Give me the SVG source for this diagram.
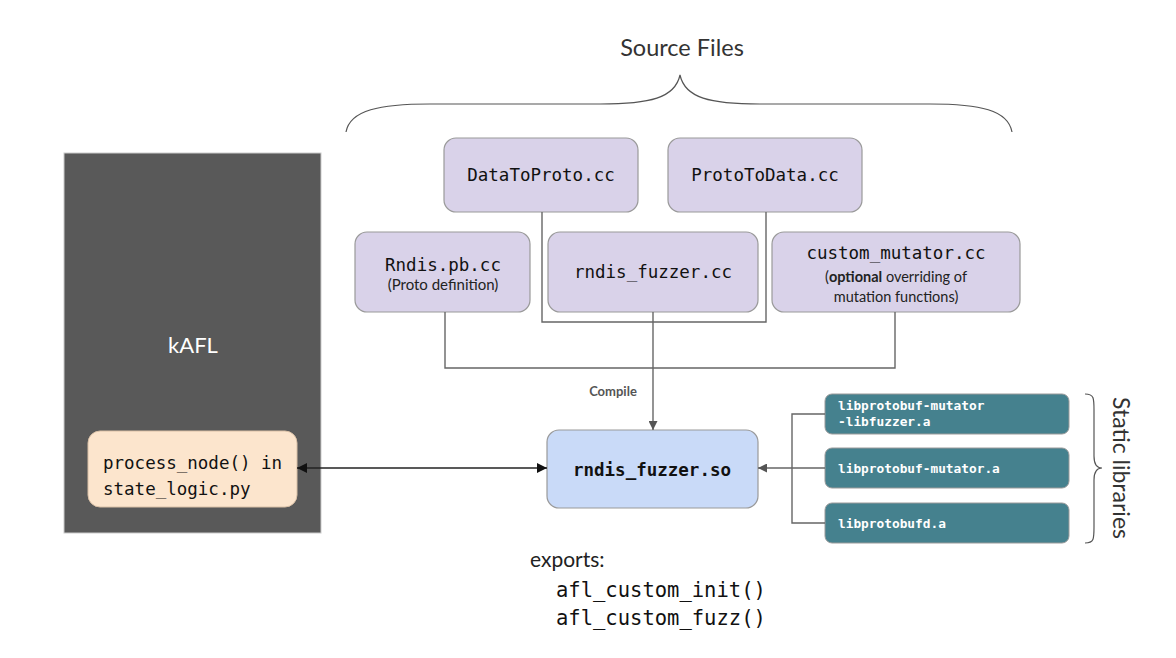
<svg xmlns="http://www.w3.org/2000/svg" width="1176" height="658" viewBox="0 0 1176 658">
<defs>
<style>
.src{fill:#d9d2e9;stroke:#9a9a9a;stroke-width:1.2}
.lib{fill:#45818e;stroke:#9a9a9a;stroke-width:1}
.mono{font-family:"DejaVu Sans Mono","Liberation Mono",monospace;font-size:17.5px;fill:#111}
.lato{font-family:Lato,"Open Sans",sans-serif;fill:#222}
.libt{font-family:"DejaVu Sans Mono","Liberation Mono",monospace;font-size:12.8px;font-weight:bold;fill:#fff}
.con{fill:none;stroke:#666;stroke-width:1.4}
.brace{fill:none;stroke:#555;stroke-width:1.2}
</style>
<marker id="ah" viewBox="0 0 10 10" refX="10" refY="5" markerWidth="9" markerHeight="9" markerUnits="userSpaceOnUse" orient="auto-start-reverse">
<path d="M0,0 L10,5 L0,10 z" fill="#555"/>
</marker>
<marker id="ahb" viewBox="0 0 10 10" refX="10" refY="5" markerWidth="10" markerHeight="10" markerUnits="userSpaceOnUse" orient="auto-start-reverse">
<path d="M0,0 L10,5 L0,10 z" fill="#111"/>
</marker>
</defs>
<rect width="1176" height="658" fill="#fff"/>

<g id="source-files-label">
<text x="682" y="56" font-family="Lato,'Open Sans',sans-serif" font-size="23.5" fill="#333" text-anchor="middle">Source Files</text>
<path class="brace" d="M346,132 C350,110 380,104 430,104 L600,104 C650,104 675,98 680,75 C685,98 710,104 760,104 L930,104 C980,104 1008,110 1012,132"/>
</g>

<g id="kafl">
<rect x="64" y="153" width="257" height="380" fill="#595959" stroke="#cccccc" stroke-width="1"/>
<text x="193" y="353" font-family="Lato,'Open Sans',sans-serif" font-size="22" fill="#fff" text-anchor="middle">kAFL</text>
</g>
<g id="process-node">
<rect x="88" y="431" width="209" height="76" rx="12" fill="#fce5cd" stroke="#d9c0a6" stroke-width="1"/>
<text class="mono" x="103" y="469">process_node() in</text>
<text class="mono" x="103" y="495">state_logic.py</text>
</g>

<g id="DataToProto">
<rect class="src" x="444" y="138" width="194" height="74" rx="12"/>
<text class="mono" x="541" y="181" text-anchor="middle">DataToProto.cc</text>
</g>
<g id="ProtoToData">
<rect class="src" x="668" y="138" width="194" height="74" rx="12"/>
<text class="mono" x="765" y="181" text-anchor="middle">ProtoToData.cc</text>
</g>
<g id="Rndis-pb">
<rect class="src" x="355" y="232" width="175" height="80" rx="12"/>
<text class="mono" x="443" y="271" text-anchor="middle">Rndis.pb.cc</text>
<text class="lato" x="443" y="290" font-size="15" text-anchor="middle">(Proto definition)</text>
</g>
<g id="rndis-fuzzer-cc">
<rect class="src" x="548" y="232" width="210" height="80" rx="12"/>
<text class="mono" x="653" y="278" text-anchor="middle">rndis_fuzzer.cc</text>
</g>
<g id="custom-mutator">
<rect class="src" x="772" y="232" width="248" height="80" rx="12"/>
<text class="mono" x="896" y="259" text-anchor="middle">custom_mutator.cc</text>
<text class="lato" x="896" y="282" font-size="14.5" text-anchor="middle">(<tspan font-weight="bold">optional</tspan> overriding of</text>
<text class="lato" x="896" y="302" font-size="14.5" text-anchor="middle">mutation functions)</text>
</g>

<g id="rndis-fuzzer-so">
<rect x="547" y="430" width="211" height="78" rx="12" fill="#c9daf8" stroke="#9a9a9a" stroke-width="1.2"/>
<text class="mono" x="652" y="476" text-anchor="middle" font-weight="bold">rndis_fuzzer.so</text>
</g>
<g id="exports">
<text class="lato" x="530" y="567" font-size="21">exports:</text>
<text x="556" y="597" font-family="'DejaVu Sans Mono','Liberation Mono',monospace" font-size="20.5" fill="#111">afl_custom_init()</text>
<text x="556" y="625" font-family="'DejaVu Sans Mono','Liberation Mono',monospace" font-size="20.5" fill="#111">afl_custom_fuzz()</text>
</g>

<g id="lib1">
<rect class="lib" x="825" y="394" width="244" height="40" rx="7"/>
<text class="libt" x="838" y="410">libprotobuf-mutator</text>
<text class="libt" x="838" y="426">-libfuzzer.a</text>
</g>
<g id="lib2">
<rect class="lib" x="825" y="448" width="244" height="40" rx="7"/>
<text class="libt" x="838" y="473">libprotobuf-mutator.a</text>
</g>
<g id="lib3">
<rect class="lib" x="825" y="503" width="244" height="40" rx="7"/>
<text class="libt" x="838" y="528">libprotobufd.a</text>
</g>
<g id="static-libraries-label">
<path class="brace" d="M1085,394 C1094,394 1094,398 1094,410 L1094,456 C1094,464 1096,468 1102,468 C1096,468 1094,472 1094,480 L1094,527 C1094,539 1094,543 1085,543"/>
<text transform="translate(1113,468) rotate(90)" font-family="Lato,'Open Sans',sans-serif" font-size="23" fill="#333" text-anchor="middle">Static libraries</text>
</g>

<g id="connectors">
<path class="con" d="M542,212 L542,322 L766,322 L766,212"/>
<path class="con" d="M445,312 L445,368 L895,368 L895,312"/>
<path class="con" d="M653,312 L653,430" marker-end="url(#ah)"/>
<text x="613" y="396" font-family="Lato,'Open Sans',sans-serif" font-size="13" font-weight="bold" fill="#555" text-anchor="middle">Compile</text>
<path fill="none" stroke="#222" stroke-width="1.4" d="M297,468 L547,468" marker-start="url(#ahb)" marker-end="url(#ahb)"/>
<path class="con" d="M825,414 L792,414 L792,523 L825,523 M792,468 L825,468"/>
<path class="con" d="M792,468 L758,468" marker-end="url(#ah)"/>
</g>
</svg>
